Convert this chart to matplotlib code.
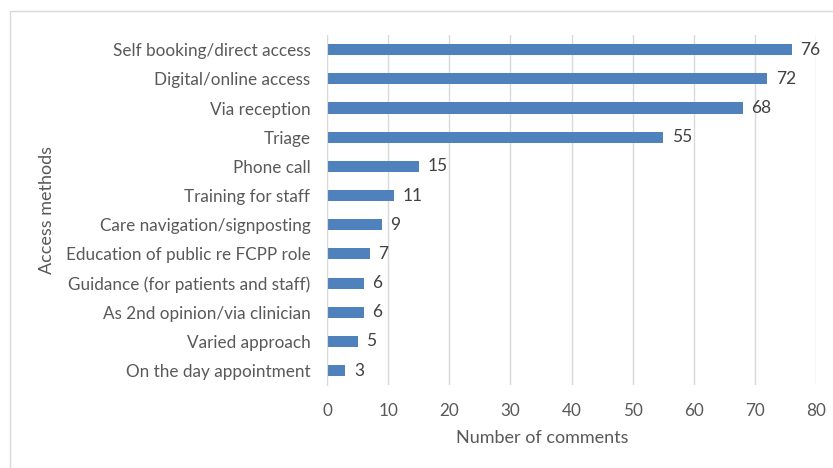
import matplotlib
matplotlib.use("Agg")
import matplotlib.pyplot as plt
from matplotlib.patches import Rectangle

plt.rcParams['font.family'] = ['Lato', 'DejaVu Sans']

methods = [
    "Self booking/direct access",
    "Digital/online access",
    "Via reception",
    "Triage",
    "Phone call",
    "Training for staff",
    "Care navigation/signposting",
    "Education of public re FCPP role",
    "Guidance (for patients and staff)",
    "As 2nd opinion/via clinician",
    "Varied approach",
    "On the day appointment",
]
comments = [76, 72, 68, 55, 15, 11, 9, 7, 6, 6, 5, 3]
xticks = [0, 10, 20, 30, 40, 50, 60, 70, 80]

txt = "#595959"
bar_color = "#4F81BD"

fig = plt.figure(figsize=(8.33, 4.68), dpi=100)
ax = fig.add_axes([0.3926, 0.177, 0.587, 0.748])

ypos = list(range(len(methods)))
ax.barh(ypos, comments, height=0.38, color=bar_color, zorder=3)
for y, v in zip(ypos, comments):
    ax.text(v + 1.4, y, str(v), va="center", ha="left", fontsize=12.5, color="#404040")

ax.set_ylim(len(methods) - 0.5, -0.5)
ax.set_xlim(0, 80)
ax.set_yticks(ypos)
ax.set_yticklabels(methods, fontsize=12.3, color=txt)
ax.set_xticks(xticks)
ax.set_xticklabels([str(t) for t in xticks], fontsize=12.3, color=txt)
ax.tick_params(axis="both", length=0)
ax.tick_params(axis="y", pad=12)
ax.tick_params(axis="x", pad=13)
ax.grid(axis="x", color="#D9D9D9", linewidth=1, zorder=0)
for s in ["top", "right", "bottom"]:
    ax.spines[s].set_visible(False)
ax.spines["left"].set_color("#D9D9D9")
ax.spines["left"].set_zorder(4)

fig.text(542 / 833, 1 - 438 / 468, "Number of comments", fontsize=13, color=txt,
         ha="center", va="center")
fig.text(47 / 833, 1 - 210 / 468, "Access methods", fontsize=13, color=txt,
         ha="center", va="center", rotation=90)

fig.patches.append(Rectangle((10 / 833, -0.1), 1.2, 1 - 11 / 468 + 0.1,
                             transform=fig.transFigure, fill=False,
                             edgecolor="#D9D9D9", linewidth=1))

fig.savefig("out.png", dpi=100)
